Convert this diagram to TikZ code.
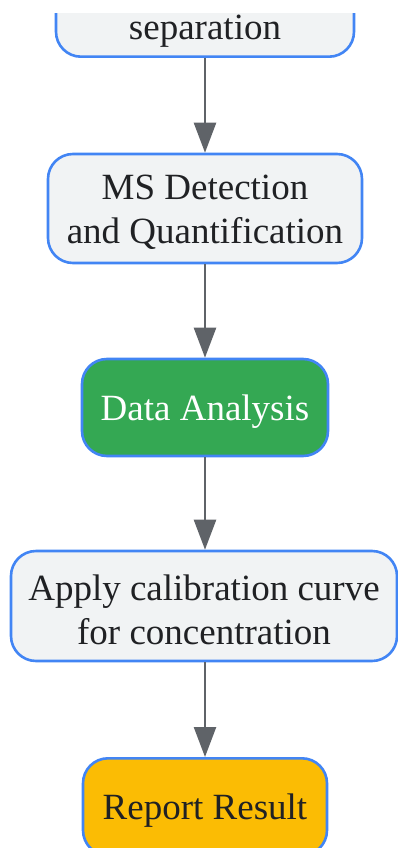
\documentclass[tikz,border=0pt]{standalone}
\usepackage{fontspec}
\setmainfont{Liberation Serif}
\usetikzlibrary{arrows.meta}
\definecolor{boxgray}{HTML}{F1F3F4}
\definecolor{boxblue}{HTML}{4285F4}
\definecolor{arrgray}{HTML}{5F6368}
\definecolor{txt}{HTML}{202124}
\definecolor{gfill}{HTML}{34A853}
\definecolor{yfill}{HTML}{FBBC04}
\newcommand{\dnline}[1]{\raisebox{-4pt}[\height][\depth]{#1}}
\tikzset{
  stepbox/.style={draw=boxblue, line width=2.6pt, fill=boxgray, rounded corners=25pt,
    inner sep=0pt, align=center, text=txt,
    font=\fontsize{37}{44}\selectfont},
  flow/.style={draw=arrgray, line width=2.5pt, -{Triangle[width=22pt,length=30pt]}},
}
\begin{document}
\begin{tikzpicture}[x=1pt,y=-1pt]
\useasboundingbox (0,0) rectangle (398,848);
\begin{scope}
\clip (0,14) rectangle (398,848);
\node[stepbox, minimum width=298pt, minimum height=110pt, anchor=south] (n1) at (205,58) {};
\node[anchor=base, text=txt, font=\fontsize{37}{44}\selectfont, inner sep=0pt] (n1t) at (205,40) {separation};
\node[stepbox, minimum width=314pt, minimum height=109pt] (n2) at (205,208.5) {\dnline{MS Detection}\\\dnline{and Quantification}};
\node[stepbox, minimum width=246pt, minimum height=97pt, fill=gfill, text=white] (n3) at (205,407.5) {\dnline{Data Analysis}};
\node[stepbox, minimum width=386pt, minimum height=110pt] (n4) at (204,606) {\dnline{Apply calibration curve}\\\dnline{for concentration}};
\node[stepbox, minimum width=244pt, minimum height=97pt, fill=yfill, anchor=north] (n5) at (205,757) {\dnline{Report Result}};
\end{scope}
\draw[flow] (n1.south) -- (n2.north);
\draw[flow] (n2.south) -- (n3.north);
\draw[flow] (n3.south) -- (n3.south |- n4.north);
\draw[flow] (n5.north |- n4.south) -- (n5.north);
\end{tikzpicture}
\end{document}
